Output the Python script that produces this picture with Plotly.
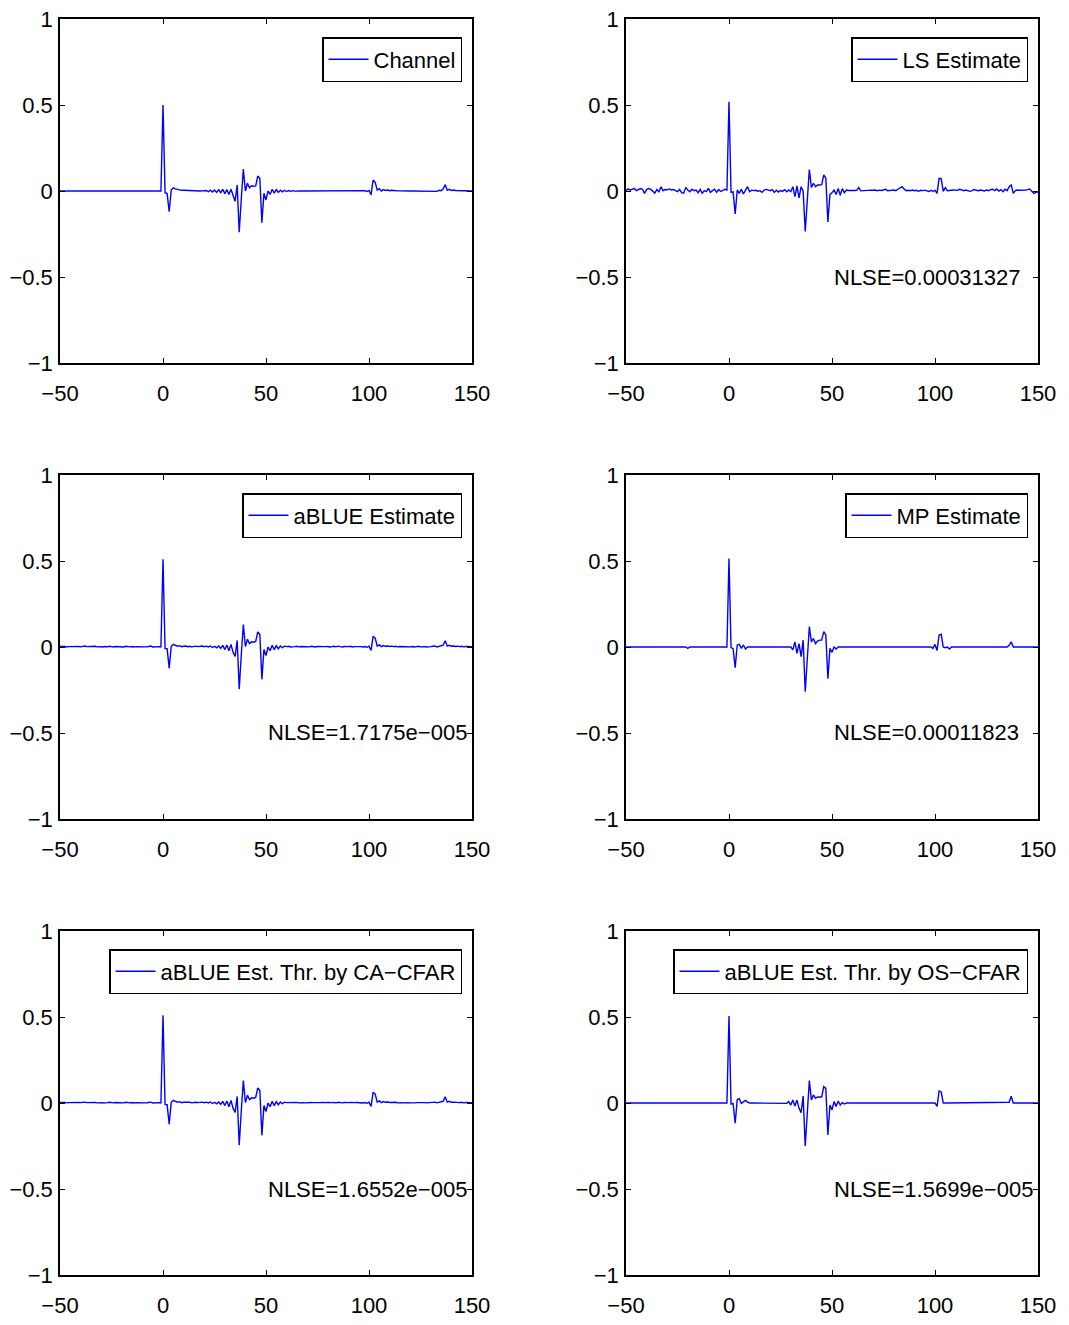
import plotly.graph_objects as go

# sample index n = -50 .. 150
N = list(range(-50, 151))

# values in thousandths (milli-units), rows of 10 samples starting at the n in the comment
CHANNEL = [
    0, 0, 0, 0, 0, 0, 0, 0, 0, 0,            # -50
    0, 0, 0, 0, 0, 0, 0, 0, 0, 0,            # -40
    0, 0, 0, 0, 0, 0, 0, 0, 0, 0,            # -30
    0, 0, 0, 0, 0, 0, 0, 0, 0, 0,            # -20
    0, 0, 0, 0, 0, 0, 0, 0, 0, 0,            # -10
    500, -10, -15, -120, 5, 18, 12, 8, 6, 4,  # 0
    4, 3, 2, 2, 1, 1, 0, 1, 0, 1,            # 10
    0, 3, -4, 5, -6, 6, -8, 8, -10, 10,      # 20
    -15, 8, -20, 10, -25, -60, 35, -240, -45, 128,  # 30
    0, 45, 19, 30, 28, 30, 87, 74, -184, -13,  # 40
    -52, 0, -20, 10, -12, 8, -8, 5, -5, 4,   # 50
    -3, 3, -2, 2, -1, 1, 0, 0, 0, 0,         # 60
    0, 0, 0, 0, 0, 0, 0, 0, 0, 0,            # 70
    0, 0, 0, 0, 0, 0, 0, 0, 0, 0,            # 80
    0, 0, 0, 0, 0, 0, 0, 1, 2, -3,           # 90
    3, -22, 64, 50, 5, 14, 0, 8, 3, 6,       # 100
    2, 4, 2, 2, 1, 1, 0, 0, 0, 0,            # 110
    0, 0, 0, 0, 0, 0, 0, 0, 0, 0,            # 120
    0, 1, 2, -2, 4, 2, 12, 37, 4, 10,        # 130
    3, 6, 3, 3, 1, 1, 0, 0, 0, 0,            # 140
    0,                                       # 150
]

LS_EST = [
    2, 12, 5, 8, 15, 2, 9, 14, 10, -14,
    8, 14, 9, -3, -12, 9, -4, 25, 2, 9,
    7, 12, 6, 9, 2, -4, 9, -10, -13, 21,
    6, -4, 10, 2, 6, -10, 9, -13, 2, -4,
    15, -8, 2, 10, -8, 8, -3, 3, 10, 6,
    519, -8, -5, -134, 6, -14, 10, -17, 8, 25,
    -4, 5, 2, 4, -1, 2, -8, 4, 9, 6,
    2, 8, -8, 5, -6, 3, -2, 8, -4, 6,
    -4, 25, -33, 30, -40, 25, 0, -235, -40, 125,
    20, 45, 25, 35, 35, 37, 93, 75, -180, -20,
    -10, 5, -20, 15, -25, 14, -10, 6, 3, 2,
    4, 3, 4, 20, 1, 2, 4, 6, 3, 5,
    4, 6, 2, 5, 3, 8, 10, 2, 5, 4,
    6, 2, 10, 18, 25, 12, 2, 4, 2, 6,
    2, 4, -2, 4, 2, 5, 0, -3, 4, -2,
    4, -14, 74, 72, -2, 20, 2, 4, 2, 6,
    5, 4, 10, 4, 2, 6, 4, -2, 2, 8,
    4, 2, 6, 4, 0, 6, 2, 8, 10, 2,
    12, 0, 8, -4, 10, 2, 25, 35, -14, 2,
    6, 4, 4, 2, 6, 8, 12, -2, -14, -8,
    -6,
]

ABLUE_EST = [
    6, 2, 4, 0, 2, 3, 1, 4, 2, 3,
    1, 4, 6, 2, 3, 0, 2, 4, 1, 3,
    2, 0, 3, 1, 4, 2, 0, 3, 2, 1,
    3, 0, 4, 2, 1, 3, 0, 2, 1, 3,
    0, 2, 1, 3, 6, 0, 2, 1, 2, 0,
    510, -8, -10, -123, 4, 16, 10, 5, 8, 2,
    4, 6, 2, 4, 1, 3, 5, 2, 4, 6,
    2, 5, 0, 6, -3, 4, -5, 6, -8, 10,
    -15, 12, -22, 15, -30, -55, 38, -245, -45, 130,
    2, 45, 20, 30, 28, 32, 88, 74, -188, -15,
    -50, 0, -22, 10, -15, 8, -10, 6, -4, 5,
    2, 4, 0, 3, 2, 4, 1, 3, 2, 0,
    3, 1, 4, 2, 0, 3, 2, 4, 1, 2,
    3, 0, 2, 4, 1, 5, 2, 0, 3, 1,
    2, 4, 0, 2, 3, 1, 2, 0, 3, -2,
    4, -20, 62, 52, 5, 12, 2, 8, 4, 6,
    3, 5, 2, 4, 1, 3, 2, 0, 3, 2,
    1, 3, 0, 2, 4, 1, 3, 2, 0, 3,
    2, 4, 6, 0, 3, 5, 10, 36, 5, 10,
    4, 6, 3, 5, 2, 4, 1, 3, 2, 0,
    2,
]

MP_EST = [
    0, 0, 0, 0, 0, 0, 0, 0, 0, 0,
    0, 0, 0, 0, 0, 0, 0, 0, 0, 0,
    0, 0, 0, 0, 0, 0, 0, 0, 0, 0,
    -8, 0, 0, 0, 0, 0, 0, 0, 4, 0,
    0, 3, 0, 4, 0, 0, 0, 0, 0, 0,
    515, -3, -10, -120, 12, 15, -8, 12, -12, 0,
    0, 0, 0, 0, 0, 0, 0, 0, 0, 0,
    0, 0, 0, 0, 0, 0, 0, 0, 0, 0,
    0, -17, 30, -37, 20, -56, 40, -260, -40, 118,
    30, 50, 20, 35, 40, 40, 89, 70, -185, -8,
    -31, 0, -12, 0, 0, 0, 0, 0, 0, 0,
    0, 0, 0, 0, 0, 0, 0, 0, 0, 0,
    0, 0, 0, 0, 0, 0, 0, 0, 0, 0,
    0, 0, 0, 0, 4, 0, 0, 0, 0, 0,
    0, 0, 0, 0, 0, 0, 0, 0, 0, -8,
    15, -20, 70, 74, 0, -4, 0, -12, 0, 0,
    0, 0, 0, 0, 0, 0, 0, 0, 0, 0,
    0, 0, 0, 0, 0, 0, 0, 0, 0, 0,
    0, 0, 0, 0, 0, 0, 10, 30, 0, 0,
    0, 0, 0, 0, 0, 0, 0, 0, 0, 0,
    0,
]

CA_CFAR_EST = [
    4, 2, 5, 1, 2, 3, 0, 4, 2, 3,
    2, 4, 5, 2, 3, 1, 2, 3, 1, 3,
    2, 0, 3, 2, 4, 2, 1, 3, 2, 1,
    3, 1, 4, 2, 1, 3, 0, 2, 1, 3,
    1, 2, 1, 3, 5, 0, 2, 1, 2, 0,
    510, -8, -10, -123, 4, 16, 10, 5, 8, 2,
    4, 5, 2, 4, 1, 3, 4, 2, 4, 5,
    2, 5, 0, 6, -3, 4, -5, 6, -8, 10,
    -15, 12, -22, 15, -30, -55, 38, -245, -45, 130,
    2, 45, 20, 30, 28, 32, 88, 74, -188, -15,
    -50, 0, -22, 10, -15, 8, -10, 6, -4, 5,
    2, 3, 1, 3, 2, 3, 1, 3, 2, 1,
    3, 1, 3, 2, 1, 3, 2, 3, 1, 2,
    3, 1, 2, 3, 1, 4, 2, 1, 3, 1,
    2, 3, 1, 2, 3, 1, 2, 0, 3, -2,
    4, -20, 62, 52, 5, 12, 2, 8, 4, 6,
    3, 4, 2, 4, 1, 3, 2, 1, 3, 2,
    1, 3, 1, 2, 3, 1, 3, 2, 1, 3,
    2, 3, 5, 1, 3, 5, 10, 36, 5, 10,
    4, 5, 3, 4, 2, 4, 1, 3, 2, 1,
    2,
]

OS_CFAR_EST = [
    0, 0, 0, 0, 0, 0, 0, 0, 0, 0,
    0, 0, 0, 0, 0, 0, 0, 0, 0, 0,
    0, 0, 0, 0, 0, 0, 0, 0, 0, 0,
    0, 0, 0, 0, 0, 0, 0, 0, 0, 0,
    0, 0, 2, 0, -2, 0, 0, 0, 0, 0,
    505, -6, -3, -118, 20, 25, -2, 8, 15, 5,
    0, 0, 0, 0, 0, 0, 0, 0, 0, 0,
    0, 0, 0, 0, 0, 0, 0, 0, -2, 8,
    -12, 17, -17, 17, -31, -56, 40, -250, -40, 130,
    17, 47, 27, 35, 35, 35, 95, 85, -186, -12,
    -40, 8, -20, 12, -12, 2, -6, 0, 0, 0,
    0, 0, 0, 0, 0, 0, 0, 0, 0, 0,
    0, 0, 0, 0, 0, 0, 0, 0, 0, 0,
    0, 0, 0, 0, 0, 0, 0, 0, 0, 0,
    0, 0, 0, 0, 0, 0, 0, 0, 0, 0,
    0, -20, 70, 64, 0, 0, 0, 0, 0, 0,
    0, 0, 0, 0, 0, 0, 0, 0, 0, 0,
    0, 0, 0, 0, 0, 0, 0, 0, 0, 0,
    0, 0, 0, 0, 0, 0, 4, 40, 0, 0,
    0, 0, 0, 0, 0, 0, 0, 0, 0, 0,
    0,
]

NAMES = ["Channel", "LS Estimate", "aBLUE Estimate", "MP Estimate",
         "aBLUE Est. Thr. by CA\u2212CFAR", "aBLUE Est. Thr. by OS\u2212CFAR"]
NLSE = [None, "NLSE=0.00031327", "NLSE=1.7175e\u2212005", "NLSE=0.00011823",
        "NLSE=1.6552e\u2212005", "NLSE=1.5699e\u2212005"]
XTICKS = [-50, 0, 50, 100, 150]
YTICKS = [-1, -0.5, 0, 0.5, 1]

SERIES = [CHANNEL, LS_EST, ABLUE_EST, MP_EST, CA_CFAR_EST, OS_CFAR_EST]
for s in SERIES:
    assert len(s) == len(N)

W, H = 1069, 1325
FONT = "Liberation Sans, Arial, Helvetica, sans-serif"
FS = 22

XDOM = [[60 / W, 472 / W], [626 / W, 1038 / W]]
YDOM = [[1 - 363 / H, 1 - 19 / H], [1 - 819 / H, 1 - 475 / H], [1 - 1275 / H, 1 - 931 / H]]
LEG_RIGHT = [462, 1028]
LEG_TOP = [37, 493, 949]

fig = go.Figure()
layout = dict(
    template="none",
    width=W, height=H, margin=dict(l=0, r=0, t=0, b=0, autoexpand=False),
    paper_bgcolor="white", plot_bgcolor="white",
    font=dict(family=FONT, size=FS, color="black"),
    annotations=[],
)

for i, (name, vals) in enumerate(zip(NAMES, SERIES)):
    r, c = divmod(i, 2)
    k = "" if i == 0 else str(i + 1)
    fig.add_trace(go.Scatter(
        x=N, y=[v / 1000 for v in vals], mode="lines", name=name,
        line=dict(color="#0000ff", width=1.4),
        xaxis="x" + k, yaxis="y" + k, legend="legend" + k, showlegend=True,
    ))
    common = dict(showgrid=False, zeroline=False, showline=True, linecolor="black",
                  linewidth=1.5, mirror="ticks", ticks="inside", ticklen=5,
                  tickcolor="black", tickwidth=1.2, automargin=False,
                  tickfont=dict(family=FONT, size=FS, color="black"))
    layout["xaxis" + k] = dict(domain=XDOM[c], anchor="y" + k, range=[-50, 150],
                               tickvals=XTICKS, ticklabelstandoff=10, **common)
    layout["yaxis" + k] = dict(domain=YDOM[r], anchor="x" + k, range=[-1, 1],
                               tickvals=YTICKS, ticklabelstandoff=1, **common)
    layout["legend" + k] = dict(
        x=LEG_RIGHT[c] / W, y=1 - LEG_TOP[r] / H, xanchor="right", yanchor="top",
        bordercolor="black", borderwidth=1.5, bgcolor="white", itemwidth=40,
        font=dict(family=FONT, size=FS, color="black"), itemclick=False,
    )
    if NLSE[i]:
        layout["annotations"].append(dict(
            x=50, y=-0.5, xref="x" + k, yref="y" + k, text=NLSE[i], showarrow=False,
            xanchor="left", yanchor="middle", font=dict(family=FONT, size=FS, color="black"),
        ))

fig.update_layout(**layout)
fig.write_html("out.html", config={"displayModeBar": False},
               post_script="document.body.style.margin='0';")
